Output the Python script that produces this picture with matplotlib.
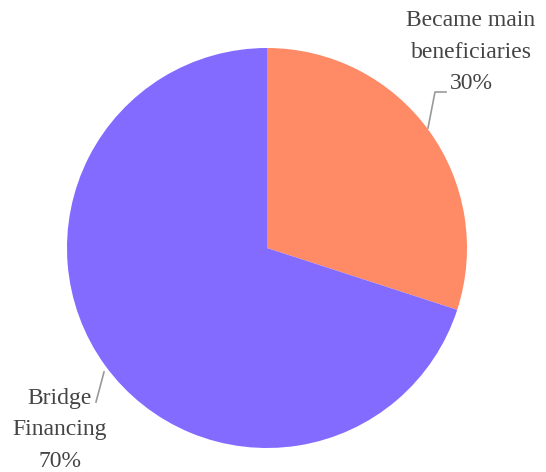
import matplotlib
matplotlib.use('Agg')
import matplotlib.pyplot as plt

labels = ['Became main\nbeneficiaries', 'Bridge\nFinancing']
values = [30, 70]
colors = ['#FF8A66', '#836BFF']

W, H = 546, 472
fig = plt.figure(figsize=(W / 100, H / 100), dpi=100)
ax = fig.add_axes([0, 0, 1, 1])

cx, cy, r = 267, H - 248, 200
ax.pie(values, colors=colors, startangle=90, counterclock=False,
       center=(cx, cy), radius=r, frame=True)
ax.set_xlim(0, W)
ax.set_ylim(0, H)
ax.set_aspect('equal')
ax.axis('off')

font = dict(family='Liberation Serif', size=17, color='#444444',
            ha='center', va='center', linespacing=1.65)

# leader lines (pixel coords, y from top)
def px(x, y):
    return x, H - y

lc = '#999999'
ax.plot(*zip(px(428, 128), px(435, 92), px(446, 92)), color=lc, lw=1.2)
ax.plot(*zip(px(104, 372), px(96, 402)), color=lc, lw=1.2)

tx, ty = px(471, 52)
ax.text(tx, ty, labels[0] + '\n%d%%' % values[0], **font)
tx, ty = px(60, 430)
ax.text(tx, ty, labels[1] + '\n%d%%' % values[1], **font)

fig.savefig('out.png', dpi=100)
